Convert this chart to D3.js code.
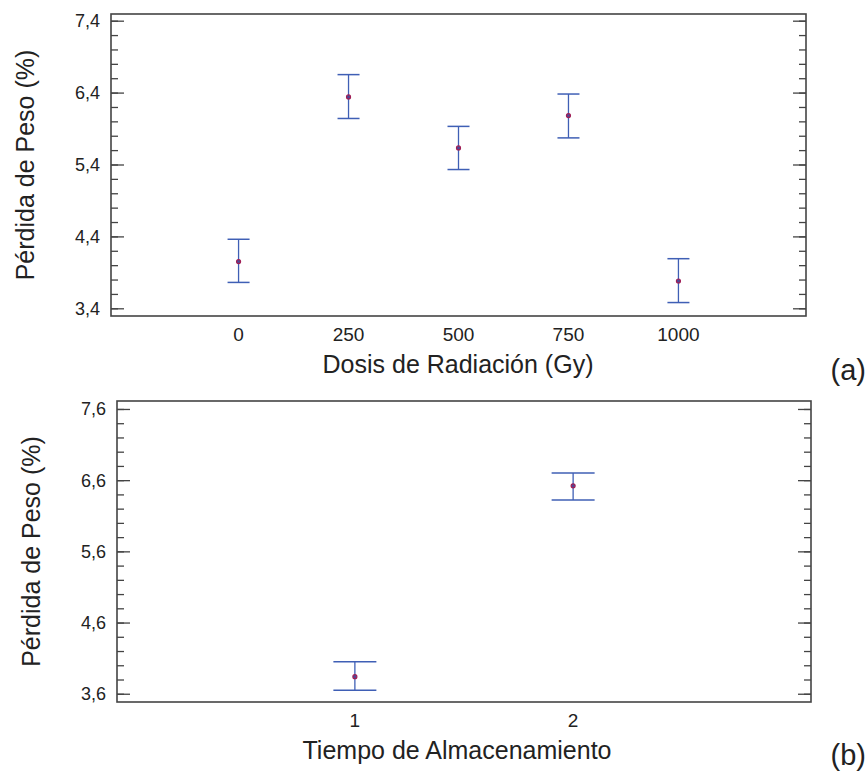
<!DOCTYPE html>
<html>
<head>
<meta charset="utf-8">
<script src="https://cdn.jsdelivr.net/npm/d3@7"></script>
<style>
  body { margin: 0; background: #fff; }
  svg text { font-family: "Liberation Sans", Arial, sans-serif; fill: #222; }
</style>
</head>
<body>
<div class="container"></div>
<script>
const WIDTH = 868;
const HEIGHT = 773;

// panel (a): dosis de radiacion
const dosis = [0, 250, 500, 750, 1000];
const dosisMedia = [4.05, 6.34, 5.63, 6.08, 3.78];
const dosisInf = [3.76, 6.04, 5.33, 5.77, 3.48];
const dosisSup = [4.36, 6.65, 5.93, 6.38, 4.09];
const yTicksA = [3.4, 4.4, 5.4, 6.4, 7.4];

// panel (b): tiempo de almacenamiento
const tiempo = [1, 2];
const tiempoMedia = [3.84, 6.52];
const tiempoInf = [3.65, 6.32];
const tiempoSup = [4.05, 6.70];
const yTicksB = [3.6, 4.6, 5.6, 6.6, 7.6];

const BAR_COLOR = "#3f5fb5";
const BOX_COLOR = "#444";

var fmt = function(v){ return d3.format(".1f")(v).replace(".", ","); };

var translate = function(x, y){ return "translate(" + x + "," + y + ")"; };

var drawPanel = function(svg, p){
    var x = d3.scaleLinear().domain(p.xDomain).range([p.left, p.right]);
    var y = d3.scaleLinear().domain(p.yDomain).range([p.bottom, p.top]);

    var g = svg.append('g');

    // minor + major ticks, both sides, pointing inwards
    var minor = d3.range(p.yTicks[0], p.yTicks[p.yTicks.length - 1] + 0.001, 0.2);
    var axL = d3.axisRight(y).tickValues(minor).tickSize(7).tickFormat("");
    var axLmaj = d3.axisRight(y).tickValues(p.yTicks).tickSize(13).tickFormat("");
    var axR = d3.axisLeft(y).tickValues(minor).tickSize(7).tickFormat("");
    var axRmaj = d3.axisLeft(y).tickValues(p.yTicks).tickSize(13).tickFormat("");
    [[axL, p.left], [axLmaj, p.left], [axR, p.right], [axRmaj, p.right]].forEach(function(a){
        var t = g.append('g').attr('transform', translate(a[1], 0)).call(a[0]);
        t.select('.domain').remove();
        t.selectAll('line').attr('stroke', BOX_COLOR).attr('stroke-width', 1.3);
    });

    // y tick labels
    g.selectAll('text.ylab').data(p.yTicks).enter().append('text')
        .attr('class', 'ylab')
        .attr('x', p.left - 11)
        .attr('y', function(d){ return y(d); })
        .attr('dy', '0.36em')
        .attr('text-anchor', 'end')
        .style('font-size', '18px')
        .text(fmt);

    // x tick labels
    g.selectAll('text.xlab').data(p.xCats).enter().append('text')
        .attr('class', 'xlab')
        .attr('x', function(d){ return x(d); })
        .attr('y', p.bottom + 25)
        .attr('text-anchor', 'middle')
        .style('font-size', '19px')
        .text(function(d){ return d; });

    // frame
    g.append('rect')
        .attr('x', p.left).attr('y', p.top)
        .attr('width', p.right - p.left).attr('height', p.bottom - p.top)
        .attr('fill', 'none').attr('stroke', BOX_COLOR).attr('stroke-width', 1.6);

    // error bars
    var data = p.xCats.map(function(c, i){
        return {x: c, m: p.media[i], lo: p.inf[i], hi: p.sup[i]};
    });
    var bars = g.selectAll('g.bar').data(data).enter().append('g').attr('class', 'bar');
    bars.append('line')
        .attr('x1', function(d){ return x(d.x); }).attr('x2', function(d){ return x(d.x); })
        .attr('y1', function(d){ return y(d.lo); }).attr('y2', function(d){ return y(d.hi); })
        .attr('stroke', BAR_COLOR).attr('stroke-width', 1.3);
    ['lo', 'hi'].forEach(function(k){
        bars.append('line')
            .attr('x1', function(d){ return x(d.x) - p.cap; }).attr('x2', function(d){ return x(d.x) + p.cap; })
            .attr('y1', function(d){ return y(d[k]); }).attr('y2', function(d){ return y(d[k]); })
            .attr('stroke', BAR_COLOR).attr('stroke-width', 1.5);
    });
    bars.append('circle')
        .attr('cx', function(d){ return x(d.x); })
        .attr('cy', function(d){ return y(d.m); })
        .attr('r', 2)
        .attr('fill', '#4a4a9a')
        .attr('stroke', '#a01e55').attr('stroke-width', 1.2);

    // titles
    svg.append('text')
        .attr('transform', translate(p.yTitleX, (p.top + p.bottom) / 2) + ' rotate(-90)')
        .attr('text-anchor', 'middle')
        .style('font-size', '25px')
        .text('Pérdida de Peso (%)');

    svg.append('text')
        .attr('x', p.xTitleX).attr('y', p.bottom + 57)
        .attr('text-anchor', 'middle')
        .style('font-size', '25px')
        .text(p.xTitle);

    svg.append('text')
        .attr('x', 866).attr('y', p.tagY)
        .attr('text-anchor', 'end')
        .style('font-size', '29px')
        .text(p.tag);
};

var loadChart = function(){
    var svg = d3.select('.container').append('svg')
        .attr('width', WIDTH)
        .attr('height', HEIGHT);

    drawPanel(svg, {
        left: 111, right: 806, top: 14, bottom: 316,
        xDomain: [-290, 1290], yDomain: [3.293, 7.493],
        xCats: dosis, media: dosisMedia, inf: dosisInf, sup: dosisSup,
        yTicks: yTicksA, cap: 11,
        xTitle: 'Dosis de Radiación (Gy)', xTitleX: 458, yTitleX: 34,
        tag: '(a)', tagY: 380
    });

    drawPanel(svg, {
        left: 117, right: 811, top: 401, bottom: 702,
        xDomain: [-0.09, 3.09], yDomain: [3.484, 7.712],
        xCats: tiempo, media: tiempoMedia, inf: tiempoInf, sup: tiempoSup,
        yTicks: yTicksB, cap: 21.5,
        xTitle: 'Tiempo de Almacenamiento', xTitleX: 457, yTitleX: 40,
        tag: '(b)', tagY: 765
    });
};

window.onload = loadChart;
</script>
</body>
</html>
